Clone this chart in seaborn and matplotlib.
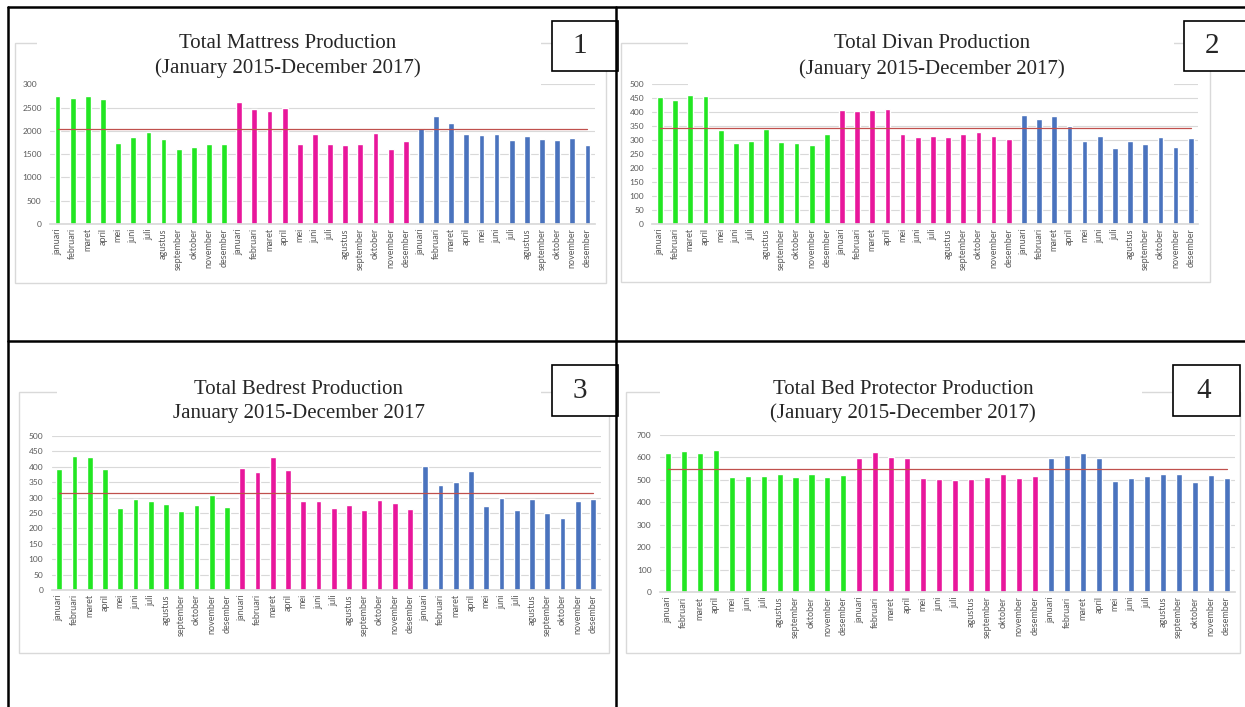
import numpy as np
import pandas as pd
import matplotlib
matplotlib.use('Agg')
import matplotlib.pyplot as plt
from matplotlib.patches import Rectangle
from matplotlib.lines import Line2D
import seaborn as sns

# data
months = ['januari', 'februari', 'maret', 'april', 'mei', 'juni', 'juli',
          'agustus', 'september', 'oktober', 'november', 'desember']
years = ['2015', '2016', '2017']

mattress_2015 = [2750, 2700, 2750, 2680, 1750, 1860, 1970, 1830, 1600, 1660, 1720, 1720]
mattress_2016 = [2610, 2480, 2420, 2500, 1710, 1940, 1710, 1700, 1710, 1950, 1600, 1790]
mattress_2017 = [2060, 2310, 2170, 1930, 1920, 1940, 1810, 1880, 1820, 1810, 1850, 1700]
mattress_avg = 2030

divan_2015 = [455, 443, 460, 458, 335, 288, 295, 338, 292, 290, 282, 320]
divan_2016 = [407, 402, 408, 412, 320, 310, 316, 310, 320, 327, 315, 305]
divan_2017 = [388, 376, 386, 350, 296, 316, 270, 296, 287, 310, 274, 308]
divan_avg = 342

bedrest_2015 = [392, 435, 433, 392, 265, 297, 290, 278, 255, 276, 307, 268]
bedrest_2016 = [395, 382, 432, 390, 290, 290, 265, 275, 260, 292, 283, 262]
bedrest_2017 = [402, 342, 350, 385, 272, 300, 260, 296, 251, 235, 290, 295]
bedrest_avg = 316

protector_2015 = [620, 628, 620, 635, 513, 519, 519, 525, 513, 527, 513, 523]
protector_2016 = [596, 625, 602, 596, 510, 503, 500, 503, 513, 527, 508, 519]
protector_2017 = [598, 609, 622, 598, 494, 508, 519, 527, 525, 492, 523, 510]
protector_avg = 547

W, H = 1245, 707
sns.set_theme(style='white')
plt.rcParams['font.family'] = ['Lato', 'DejaVu Sans']
serif = ['Liberation Serif', 'DejaVu Serif']

fig = plt.figure(figsize=(W / 100, H / 100), dpi=100)


def frac(x0, y0, x1, y1):
    return [x0 / W, 1 - y1 / H, (x1 - x0) / W, (y1 - y0) / H]


def rect(x0, y0, x1, y1, **kw):
    fig.add_artist(Rectangle((x0 / W, 1 - y1 / H), (x1 - x0) / W, (y1 - y0) / H,
                             transform=fig.transFigure, **kw))


def line(xs, ys, **kw):
    fig.add_artist(Line2D([x / W for x in xs], [1 - y / H for y in ys],
                          transform=fig.transFigure, **kw))


colors = {'2015': '#22e622', '2016': '#e8179b', '2017': '#4a73be'}

panels = [
    dict(title='Total Mattress Production', sub='(January 2015-December 2017)', num='1',
         values=mattress_2015 + mattress_2016 + mattress_2017, avg=mattress_avg,
         ymax=3000, step=500,
         ax=(50, 84.3, 595, 224), frame=(15, 42.7, 606, 283), cover=(37, 34, 541, 90),
         tx=288, ty=(43.3, 68.3), box=(552, 20.7, 618, 70.7), nxy=(580, 46)),
    dict(title='Total Divan Production', sub='(January 2015-December 2017)', num='2',
         values=divan_2015 + divan_2016 + divan_2017, avg=divan_avg,
         ymax=500, step=50,
         ax=(652.4, 84, 1198.3, 224), frame=(621, 42.7, 1210, 281.7), cover=(688, 34, 1174, 90),
         tx=932, ty=(43.3, 69), box=(1184, 20.7, 1252, 70.7), nxy=(1212, 46)),
    dict(title='Total Bedrest Production', sub='January 2015-December 2017', num='3',
         values=bedrest_2015 + bedrest_2016 + bedrest_2017, avg=bedrest_avg,
         ymax=500, step=50,
         ax=(51.7, 436, 600.6, 590), frame=(19, 391.7, 609, 652.7), cover=(57, 380, 541, 432),
         tx=299, ty=(390, 413.3), box=(552, 365, 618, 415.7), nxy=(580, 391)),
    dict(title='Total Bed Protector Production', sub='(January 2015-December 2017)', num='4',
         values=protector_2015 + protector_2016 + protector_2017, avg=protector_avg,
         ymax=700, step=100,
         ax=(659.8, 435, 1234.6, 592.3), frame=(626, 391.7, 1240, 653), cover=(660, 380, 1142, 430),
         tx=903, ty=(389.3, 413.3), box=(1173, 365, 1240, 415.7), nxy=(1204, 391)),
]

for p in panels:
    df = pd.DataFrame({'idx': np.arange(36), 'value': p['values'],
                       'year': np.repeat(years, 12)})
    # light grey chart border
    rect(*p['frame'], facecolor='none', edgecolor='#d9d9d9', lw=1, zorder=1)

    ax = fig.add_axes(frac(*p['ax']))
    sns.barplot(data=df, x='idx', y='value', hue='year', palette=colors, dodge=False,
                width=0.38, saturation=1, legend=False, ax=ax)
    sns.lineplot(x=df['idx'], y=[p['avg']] * 36, color='#c0504d', lw=0.9, ax=ax)
    ax.set_xlim(-0.5, 35.5)
    ax.set_ylim(0, p['ymax'])
    ax.set_yticks(np.arange(0, p['ymax'] + 1, p['step']))
    ax.set_xticks(range(36))
    ax.set_xticklabels(months * 3, rotation=90, fontsize=6.5, color='#595959')
    for t in ax.get_yticklabels():
        t.set_fontsize(6)
        t.set_color('#595959')
    ax.tick_params(axis='x', length=0, pad=3)
    ax.tick_params(axis='y', length=0, pad=6)
    ax.yaxis.grid(True, color='#d9d9d9', lw=0.8)
    ax.set_axisbelow(True)
    for s in ['top', 'right', 'left']:
        ax.spines[s].set_visible(False)
    ax.spines['bottom'].set_color('#d9d9d9')
    ax.set_xlabel('')
    ax.set_ylabel('')

    # white title area of the excel chart
    rect(*p['cover'], facecolor='white', edgecolor='none', zorder=2)
    fig.text(p['tx'] / W, 1 - p['ty'][0] / H, p['title'], ha='center', va='center',
             family=serif, fontsize=15, zorder=3)
    fig.text(p['tx'] / W, 1 - p['ty'][1] / H, p['sub'], ha='center', va='center',
             family=serif, fontsize=15, zorder=3)

    # numbered box
    rect(*p['box'], facecolor='white', edgecolor='black', lw=1.2, zorder=4)
    fig.text(p['nxy'][0] / W, 1 - p['nxy'][1] / H, p['num'], ha='center', va='center',
             family=serif, fontsize=21, zorder=5)

# document table lines
line([8, W], [7, 7], color='black', lw=1.8, zorder=6)
line([8, 8], [7, H], color='black', lw=1.8, zorder=6)
line([616, 616], [7, H], color='black', lw=1.8, zorder=6)
line([8, W], [341, 341], color='black', lw=1.8, zorder=6)

fig.savefig('out.png', dpi=100)
